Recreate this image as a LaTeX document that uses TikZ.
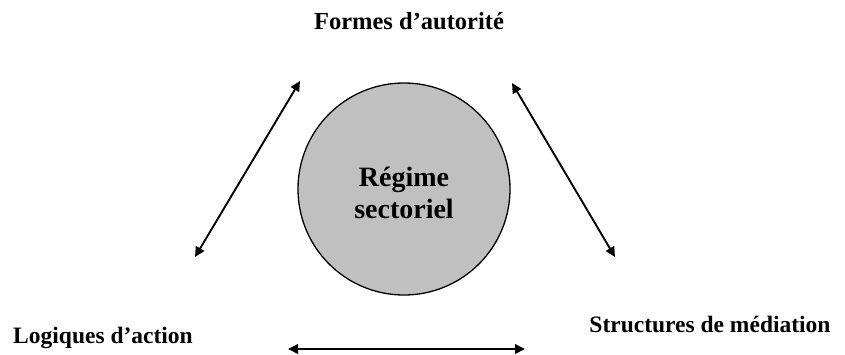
\documentclass[tikz,border=0pt]{standalone}
\usepackage{fontspec}
\setmainfont{Liberation Serif}
\usetikzlibrary{arrows.meta}
\definecolor{regfill}{RGB}{192,192,192}
\tikzset{
  reg/.style={circle, draw=black, line width=1.3pt, fill=regfill, minimum size=212pt, inner sep=0pt},
  regt/.style={align=center, inner sep=0pt, font=\fontsize{28}{32}\selectfont\bfseries},
  lab/.style={anchor=base, inner sep=0pt, font=\fontsize{23.5}{28}\selectfont\bfseries},
  barr/.style={{Triangle[length=10pt,width=9.5pt]}-{Triangle[length=10pt,width=9.5pt]}, line width=1.9pt},
}
\begin{document}
\begin{tikzpicture}[x=1pt,y=-1pt]
  \useasboundingbox (0,0) rectangle (845,354);
  % centre
  \node[reg] (reg) at (404,189) {};
  \node[regt, anchor=base] (regtxt) at (404,218) {Régime\\sectoriel};
  % labels
  \node[lab, font=\fontsize{24.5}{28}\selectfont\bfseries] (fa) at (409,29) {Formes d’autorité};
  \node[lab] (la) at (103,343) {Logiques d’action};
  \node[lab] (sm) at (710,332) {Structures de médiation};
  % arrow ends
  \coordinate (l1) at (195,257);
  \coordinate (l2) at (300,81);
  \coordinate (r1) at (512,83);
  \coordinate (r2) at (615,257);
  \coordinate (b1) at (288,349);
  \coordinate (b2) at (525,349);
  \draw[barr] (l1) -- (l2);
  \draw[barr] (r1) -- (r2);
  \draw[barr] (b1) -- (b2);
\end{tikzpicture}
\end{document}
